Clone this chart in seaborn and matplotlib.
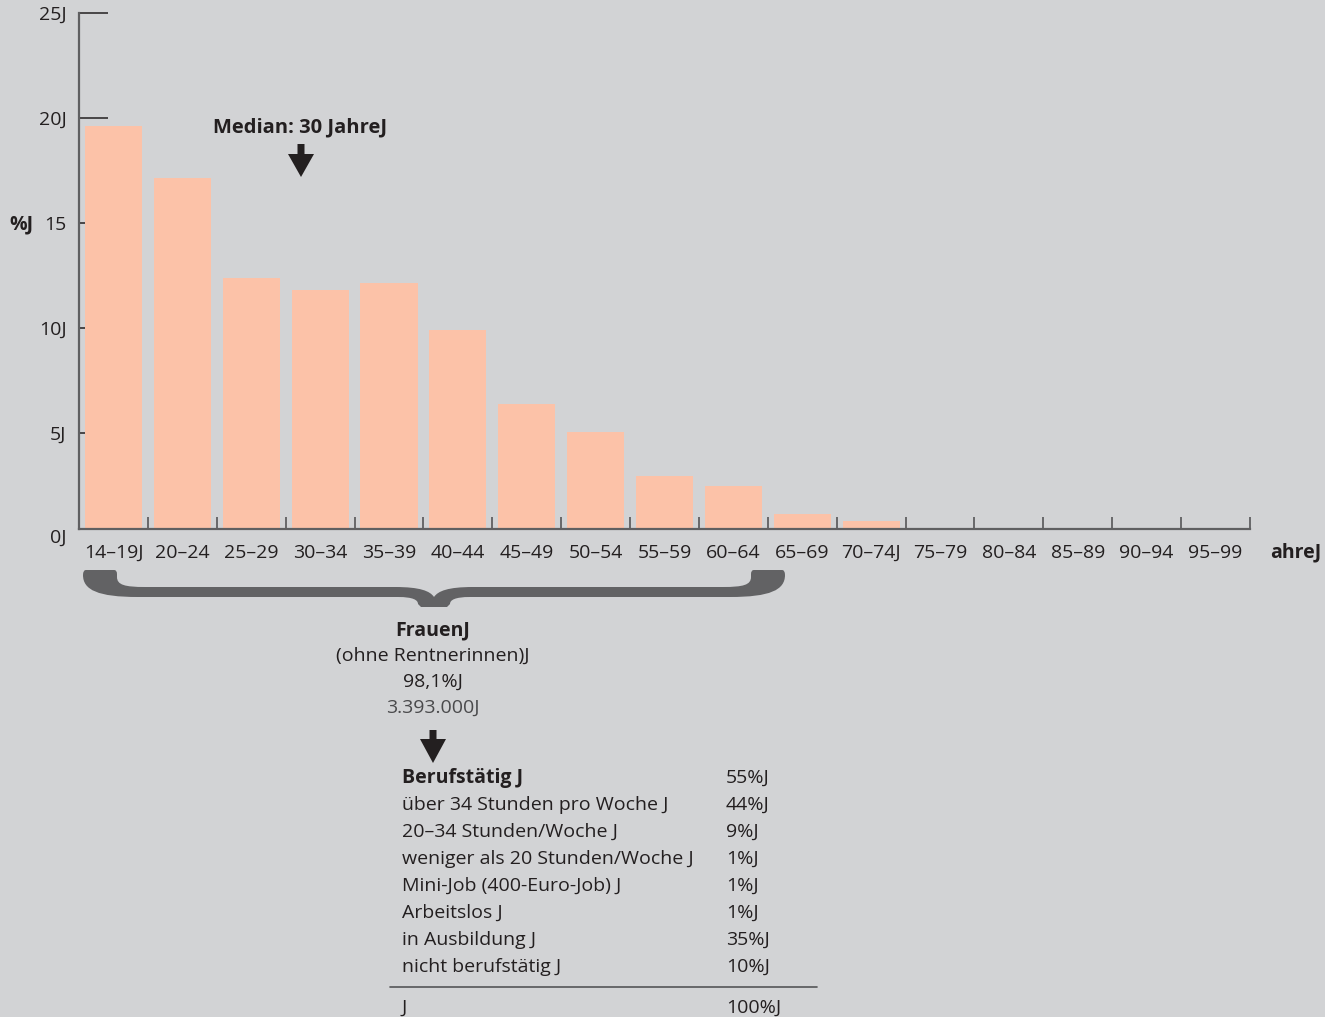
import matplotlib
matplotlib.use("Agg")
import matplotlib.pyplot as plt
import matplotlib.transforms as mtransforms
from matplotlib.patches import Polygon, PathPatch
from matplotlib.path import Path
import seaborn as sns

# Data
age_groups = ["14–19", "20–24", "25–29", "30–34", "35–39", "40–44", "45–49", "50–54",
              "55–59", "60–64", "65–69", "70–74", "75–79", "80–84", "85–89", "90–94", "95–99"]
age_labels = ["14–19J", "20–24", "25–29", "30–34", "35–39", "40–44", "45–49", "50–54",
              "55–59", "60–64", "65–69", "70–74J", "75–79", "80–84", "85–89", "90–94", "95–99"]
shares = [19.6, 17.15, 12.4, 11.8, 12.15, 9.9, 6.4, 5.05, 2.95, 2.5, 1.15, 0.8,
          0, 0, 0, 0, 0]
y_ticks = [0, 5, 10, 15, 20, 25]
y_tick_labels = ["0J", "5J", "10J", "15", "20J", "25J"]

table_labels = ["Berufstätig J", "über 34 Stunden pro Woche J", "20–34 Stunden/Woche J",
                "weniger als 20 Stunden/Woche J", "Mini-Job (400-Euro-Job) J", "Arbeitslos J",
                "in Ausbildung J", "nicht berufstätig J"]
table_values = ["55%J", "44%J", "9%J", "1%J", "1%J", "1%J", "35%J", "10%J"]
total_label = "J"
total_value = "100%J"

W, H = 1325, 1017
BG = "#d2d3d5"
BAR = "#fcc2a8"
INK = "#231f20"
AXIS = "#5f5f61"
FS = 14

sns.set_theme(style="white")
plt.rcParams["font.family"] = ["Open Sans", "DejaVu Sans"]

fig = plt.figure(figsize=(W / 100, H / 100), dpi=100, facecolor=BG)
# pixel coordinates (origin top-left) -> figure
px = mtransforms.Affine2D().scale(1 / W, -1 / H).translate(0, 1) + fig.transFigure

# value axis: 0 sits at y=538 px, 25 at y=13 px; the baseline line is drawn at 528.5 px
y_floor = (538 - 528.5) / 21
ax = fig.add_axes([79 / W, (H - 528.5) / H, (1250 - 79) / W, (528.5 - 13) / H])
ax.set_facecolor(BG)

sns.barplot(x=age_groups, y=shares, order=age_groups, color=BAR, saturation=1,
            width=0.83, linewidth=0, ax=ax)

ax.set_xlim(-0.5, len(age_groups) - 0.5)
ax.set_ylim(y_floor, 25)
for s in ["top", "right"]:
    ax.spines[s].set_visible(False)
for s in ["left", "bottom"]:
    ax.spines[s].set_color(AXIS)
    ax.spines[s].set_linewidth(1.6)

ax.set_yticks(y_ticks[1:])
ax.set_yticklabels(y_tick_labels[1:])
ax.tick_params(axis="y", left=True, direction="in", length=21, width=1.1, color=INK,
               pad=9, labelsize=FS, labelcolor=INK)
# the zero label sits just below the baseline, outside the visible range
ax.annotate(y_tick_labels[0], xy=(0, y_ticks[0]), xycoords=("axes fraction", "data"),
            xytext=(-9, 0), textcoords="offset points", ha="right", va="center",
            fontsize=FS, color=INK, annotation_clip=False)

ax.set_xticks(range(len(age_groups)))
ax.set_xticklabels(age_labels)
ax.set_xticks([i + 0.5 for i in range(len(age_groups))], minor=True)
ax.tick_params(axis="x", which="major", length=0, pad=11, labelsize=FS, labelcolor=INK)
ax.tick_params(axis="x", which="minor", bottom=True, direction="in", length=8.5,
               width=1.3, color=AXIS)
ax.set_xlabel("")
ax.set_ylabel("")

# axis captions
fig.text(9, 224, "%J", transform=px, ha="left", va="center", fontsize=FS,
         fontweight="bold", color=INK)
fig.text(1270, 552, "ahreJ", transform=px, ha="left", va="center", fontsize=FS,
         fontweight="bold", color=INK)


def arrow(xc, y0, y1, head):
    pts = [(xc - 3.5, y0), (xc + 3.5, y0), (xc + 3.5, head), (xc + 13, head),
           (xc, y1), (xc - 13, head), (xc - 3.5, head)]
    fig.add_artist(Polygon(pts, closed=True, transform=px, facecolor=INK,
                           edgecolor="none"))


# median note
fig.text(300, 127, "Median: 30 JahreJ", transform=px, ha="center", va="center",
         fontsize=14.5, fontweight="bold", color=INK)
arrow(301, 144, 177, 154)

# brace under the 14-64 groups
verts = [(86, 570), (114, 570), (117, 570), (117, 574), (117, 577),
         (117, 585), (125, 587), (145, 587), (395, 587),
         (420, 587), (430, 591), (434, 597),
         (438, 591), (448, 587), (473, 587), (723, 587),
         (743, 587), (751, 585), (751, 577), (751, 574),
         (751, 570), (754, 570), (782, 570),
         (785, 570), (785, 575),
         (785, 590), (770, 597), (730, 597), (470, 597),
         (455, 597), (450, 600), (450, 604), (447, 607), (421, 607),
         (418, 604), (418, 600), (413, 597), (398, 597), (138, 597),
         (98, 597), (83, 590), (83, 575),
         (83, 570), (86, 570)]
codes = [Path.MOVETO, Path.LINETO, Path.CURVE3, Path.CURVE3, Path.LINETO,
         Path.CURVE4, Path.CURVE4, Path.CURVE4, Path.LINETO,
         Path.CURVE4, Path.CURVE4, Path.CURVE4,
         Path.CURVE4, Path.CURVE4, Path.CURVE4, Path.LINETO,
         Path.CURVE4, Path.CURVE4, Path.CURVE4, Path.LINETO,
         Path.CURVE3, Path.CURVE3, Path.LINETO,
         Path.CURVE3, Path.CURVE3,
         Path.CURVE4, Path.CURVE4, Path.CURVE4, Path.LINETO,
         Path.CURVE4, Path.CURVE4, Path.CURVE4, Path.LINETO, Path.LINETO,
         Path.LINETO, Path.CURVE4, Path.CURVE4, Path.CURVE4, Path.LINETO,
         Path.CURVE4, Path.CURVE4, Path.CURVE4,
         Path.CURVE3, Path.CURVE3]
fig.add_artist(PathPatch(Path(verts, codes), transform=px, facecolor="#626264",
                         edgecolor="none"))

fig.text(433, 630, "FrauenJ", transform=px, ha="center", va="center", fontsize=FS,
         fontweight="bold", color=INK)
fig.text(433, 656, "(ohne Rentnerinnen)J", transform=px, ha="center", va="center",
         fontsize=FS, color=INK)
fig.text(433, 682, "98,1%J", transform=px, ha="center", va="center", fontsize=FS,
         color=INK)
fig.text(433, 708, "3.393.000J", transform=px, ha="center", va="center", fontsize=FS,
         color="#4a4a4c")
arrow(433, 730, 763, 739)

# breakdown table
for i, (lab, val) in enumerate(zip(table_labels, table_values)):
    y = 778 + i * 27
    fig.text(402, y, lab, transform=px, ha="left", va="center", fontsize=FS,
             fontweight="bold" if i == 0 else "normal", color=INK)
    fig.text(726, y, val, transform=px, ha="left", va="center", fontsize=FS,
             color=INK)
fig.add_artist(plt.Line2D([390, 817], [987, 987], transform=px, color="#555557",
                          linewidth=1.2))
fig.text(402, 1008, total_label, transform=px, ha="left", va="center", fontsize=FS,
         color=INK)
fig.text(726, 1008, total_value, transform=px, ha="left", va="center", fontsize=FS,
         color=INK)

fig.savefig("out.png", dpi=100, facecolor=BG)
